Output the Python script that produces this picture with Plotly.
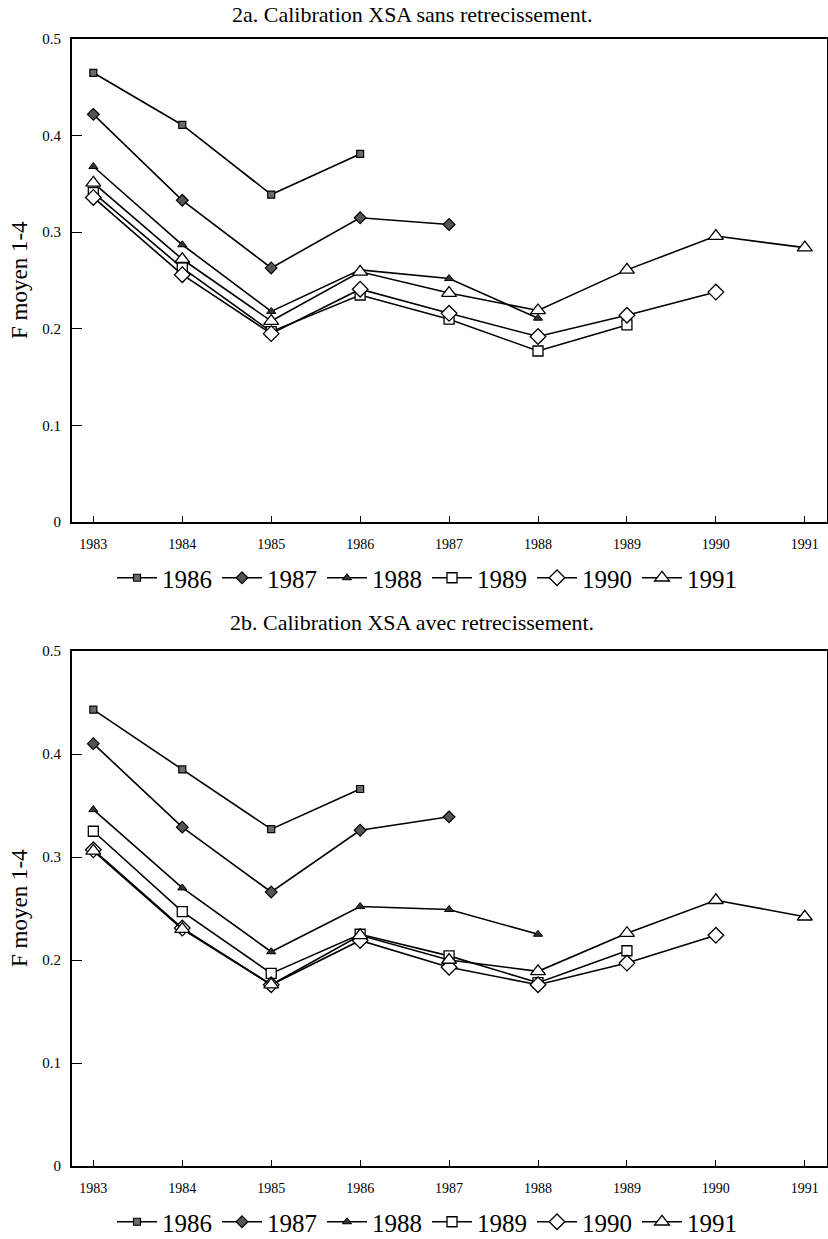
import plotly.graph_objects as go

years = [1983, 1984, 1985, 1986, 1987, 1988, 1989, 1990, 1991]
series_names = ["1986", "1987", "1988", "1989", "1990", "1991"]

# 2a. sans retrecissement
a_1986 = [0.465, 0.411, 0.339, 0.381]
a_1987 = [0.422, 0.333, 0.263, 0.315, 0.308]
a_1988 = [0.368, 0.287, 0.218, 0.261, 0.252, 0.211]
a_1989 = [0.341, 0.263, 0.197, 0.235, 0.210, 0.177, 0.204]
a_1990 = [0.336, 0.256, 0.195, 0.241, 0.216, 0.192, 0.214, 0.238]
a_1991 = [0.351, 0.272, 0.208, 0.259, 0.237, 0.219, 0.261, 0.296, 0.284]

# 2b. avec retrecissement
b_1986 = [0.443, 0.385, 0.327, 0.366]
b_1987 = [0.410, 0.329, 0.266, 0.326, 0.339]
b_1988 = [0.346, 0.270, 0.208, 0.252, 0.249, 0.225]
b_1989 = [0.325, 0.247, 0.187, 0.225, 0.204, 0.178, 0.209]
b_1990 = [0.307, 0.231, 0.176, 0.219, 0.193, 0.176, 0.197, 0.224]
b_1991 = [0.306, 0.230, 0.176, 0.224, 0.200, 0.189, 0.226, 0.258, 0.242]

y_ticks = [0, 0.1, 0.2, 0.3, 0.4, 0.5]
y_ticktext = ["0", "0.1", "0.2", "0.3", "0.4", "0.5"]

title_a = "2a. Calibration XSA sans retrecissement."
title_b = "2b. Calibration XSA avec retrecissement."
y_title = "F moyen 1-4"

FONT = "Liberation Serif"
W, H = 828, 1239

marker_styles = {
    "1986": dict(symbol="square", size=7, color="#6a6a6a", line=dict(color="black", width=1.2)),
    "1987": dict(symbol="diamond", size=9, color="#555555", line=dict(color="black", width=1.2)),
    "1988": dict(symbol="triangle-up", size=8, color="#333333", line=dict(color="black", width=1)),
    "1989": dict(symbol="square", size=10, color="white", line=dict(color="black", width=1.3)),
    "1990": dict(symbol="diamond", size=12, color="white", line=dict(color="black", width=1.3)),
    "1991": dict(symbol="triangle-up", size=13, color="white", line=dict(color="black", width=1.3)),
}

fig = go.Figure()

sets = [
    ("x", "y", "legend", [a_1986, a_1987, a_1988, a_1989, a_1990, a_1991]),
    ("x2", "y2", "legend2", [b_1986, b_1987, b_1988, b_1989, b_1990, b_1991]),
]
for xa, ya, leg, data in sets:
    for name, vals in zip(series_names, data):
        fig.add_trace(go.Scatter(
            x=years[:len(vals)], y=vals, name=name, mode="lines+markers",
            xaxis=xa, yaxis=ya, legend=leg,
            line=dict(color="black", width=1.6),
            marker=marker_styles[name],
        ))

def px_y(p):
    return 1 - p / H

def px_x(p):
    return p / W

xdom = [px_x(72), px_x(826.5)]
common_x = dict(
    range=[1982.76, 1991.244], tickvals=years, ticktext=[str(y) for y in years],
    showline=True, linecolor="black", linewidth=2, mirror=True,
    ticks="inside", ticklen=6, tickwidth=1.2, tickcolor="black",
    showgrid=False, zeroline=False, automargin=False,
    tickfont=dict(family=FONT, size=14, color="black"),
    ticklabelstandoff=8,
    domain=xdom,
)
common_y = dict(
    range=[0, 0.5], tickvals=y_ticks, ticktext=y_ticktext,
    showline=True, linecolor="black", linewidth=2, mirror=True,
    ticks="inside", ticklen=10, tickwidth=1.2, tickcolor="black",
    showgrid=False, zeroline=False, automargin=False,
    tickfont=dict(family=FONT, size=15, color="black"),
    ticklabelstandoff=6,
)

ann = []
for txt, yc in [(title_a, 14), (title_b, 622)]:
    ann.append(dict(text=txt, x=px_x(412), y=px_y(yc), xref="paper", yref="paper",
                    xanchor="center", yanchor="middle", showarrow=False,
                    font=dict(family=FONT, size=22, color="black")))
for yc in [280, 908]:
    ann.append(dict(text=y_title, x=px_x(19), y=px_y(yc), xref="paper", yref="paper",
                    xanchor="center", yanchor="middle", showarrow=False, textangle=-90,
                    font=dict(family=FONT, size=23, color="black")))

leg_common = dict(orientation="h", x=px_x(427), xanchor="center", yanchor="middle",
                  font=dict(family=FONT, size=25, color="black"), itemwidth=40,
                  bgcolor="rgba(0,0,0,0)", tracegroupgap=0)

fig.update_layout(
    width=W, height=H,
    margin=dict(l=0, r=0, t=0, b=0, autoexpand=False),
    paper_bgcolor="white", plot_bgcolor="white",
    font=dict(family=FONT, color="black"),
    xaxis=dict(**common_x, anchor="y"),
    yaxis=dict(**common_y, anchor="x", domain=[px_y(522), px_y(39)]),
    xaxis2=dict(**common_x, anchor="y2"),
    yaxis2=dict(**common_y, anchor="x2", domain=[px_y(1166), px_y(651)]),
    legend=dict(**leg_common, y=px_y(578)),
    legend2=dict(**leg_common, y=px_y(1222)),
    showlegend=True,
    annotations=ann,
)

fig.write_html(
    "out.html",
    config={"displayModeBar": False},
    post_script="document.body.style.margin='0px';document.body.style.overflow='hidden';",
)
